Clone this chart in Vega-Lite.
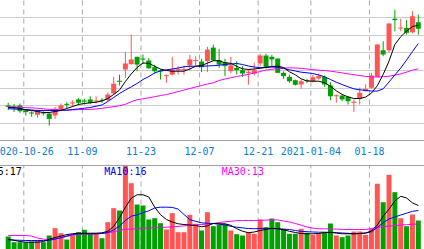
{
"$schema":"https://vega.github.io/schema/vega-lite/v6.json",
"width":424,"height":249,"padding":0,"autosize":{"type":"none"},
"background":"white",
"config":{"view":{"stroke":null},
"axisY":{"title":null,"labels":false,"ticks":false,"domain":false,"grid":true,"gridColor":"#999999","gridDash":[1,1],"gridWidth":1},
"axisX":{"title":null,"grid":false,"domain":false,"ticks":false,"tickSize":0}},
"datasets":{"d":[
{"i":0,"date":"2020-10-21","o":11.99,"h":12.14,"l":11.72,"c":11.91,"v":0.774,"m5":11.872,"m10":11.804,"m30":11.929,"vm5":0.607,"vm10":0.577,"vm30":0.833},
{"i":1,"date":"2020-10-22","o":11.93,"h":12.07,"l":11.62,"c":11.84,"v":0.435,"m5":11.855,"m10":11.787,"m30":11.901,"vm5":0.548,"vm10":0.560,"vm30":0.833},
{"i":2,"date":"2020-10-23","o":11.99,"h":12.10,"l":11.57,"c":11.66,"v":0.435,"m5":11.827,"m10":11.770,"m30":11.884,"vm5":0.476,"vm10":0.548,"vm30":0.833},
{"i":3,"date":"2020-10-26","o":11.72,"h":11.78,"l":11.42,"c":11.61,"v":0.435,"m5":11.742,"m10":11.753,"m30":11.867,"vm5":0.435,"vm10":0.536,"vm30":0.827},
{"i":4,"date":"2020-10-27","o":11.59,"h":11.66,"l":11.34,"c":11.53,"v":0.476,"m5":11.702,"m10":11.731,"m30":11.850,"vm5":0.435,"vm10":0.536,"vm30":0.798},
{"i":5,"date":"2020-10-28","o":11.46,"h":11.76,"l":11.29,"c":11.69,"v":0.536,"m5":11.645,"m10":11.702,"m30":11.833,"vm5":0.435,"vm10":0.536,"vm30":0.679},
{"i":6,"date":"2020-10-29","o":11.59,"h":11.66,"l":11.42,"c":11.53,"v":0.435,"m5":11.589,"m10":11.702,"m30":11.799,"vm5":0.470,"vm10":0.536,"vm30":0.619},
{"i":7,"date":"2020-10-30","o":11.53,"h":11.61,"l":10.85,"c":11.23,"v":0.833,"m5":11.589,"m10":11.702,"m30":11.765,"vm5":0.607,"vm10":0.548,"vm30":0.589},
{"i":8,"date":"2020-11-02","o":11.42,"h":11.91,"l":11.23,"c":11.80,"v":1.268,"m5":11.645,"m10":11.702,"m30":11.748,"vm5":0.714,"vm10":0.619,"vm30":0.631},
{"i":9,"date":"2020-11-03","o":11.76,"h":12.10,"l":11.72,"c":11.99,"v":0.970,"m5":11.702,"m10":11.714,"m30":11.731,"vm5":0.798,"vm10":0.702,"vm30":0.702},
{"i":10,"date":"2020-11-04","o":12.08,"h":12.17,"l":11.83,"c":12.02,"v":0.595,"m5":11.816,"m10":11.719,"m30":11.719,"vm5":0.887,"vm10":0.804,"vm30":0.780},
{"i":11,"date":"2020-11-05","o":12.10,"h":12.29,"l":11.91,"c":12.16,"v":0.833,"m5":11.929,"m10":11.759,"m30":11.736,"vm5":0.940,"vm10":0.893,"vm30":0.845},
{"i":12,"date":"2020-11-06","o":12.33,"h":12.40,"l":11.99,"c":12.14,"v":1.030,"m5":12.043,"m10":11.793,"m30":11.753,"vm5":0.970,"vm10":0.935,"vm30":0.881},
{"i":13,"date":"2020-11-09","o":12.27,"h":12.37,"l":12.04,"c":12.21,"v":1.173,"m5":12.099,"m10":11.833,"m30":11.759,"vm5":0.970,"vm10":0.935,"vm30":0.905},
{"i":14,"date":"2020-11-10","o":12.33,"h":12.51,"l":12.06,"c":12.14,"v":0.935,"m5":12.139,"m10":11.872,"m30":11.759,"vm5":0.970,"vm10":0.935,"vm30":0.917},
{"i":15,"date":"2020-11-11","o":12.21,"h":12.51,"l":12.10,"c":12.27,"v":0.970,"m5":12.173,"m10":11.946,"m30":11.793,"vm5":0.970,"vm10":0.935,"vm30":0.935},
{"i":16,"date":"2020-11-12","o":12.31,"h":12.40,"l":12.14,"c":12.25,"v":0.673,"m5":12.241,"m10":12.014,"m30":11.827,"vm5":0.994,"vm10":0.952,"vm30":0.958},
{"i":17,"date":"2020-11-13","o":12.29,"h":12.71,"l":12.25,"c":12.61,"v":1.625,"m5":12.383,"m10":12.213,"m30":11.872,"vm5":1.083,"vm10":1.012,"vm30":0.994},
{"i":18,"date":"2020-11-16","o":12.67,"h":13.61,"l":12.61,"c":13.23,"v":2.458,"m5":12.610,"m10":12.440,"m30":11.923,"vm5":1.381,"vm10":1.167,"vm30":1.054},
{"i":19,"date":"2020-11-17","o":13.39,"h":13.74,"l":13.12,"c":13.33,"v":2.321,"m5":12.865,"m10":12.667,"m30":11.969,"vm5":1.887,"vm10":1.399,"vm30":1.143},
{"i":20,"date":"2020-11-18","o":14.03,"h":15.01,"l":13.56,"c":14.37,"v":5.0,"m5":13.348,"m10":12.865,"m30":12.054,"vm5":2.518,"vm10":1.726,"vm30":1.202},
{"i":21,"date":"2020-11-19","o":14.33,"h":16.01,"l":14.31,"c":14.60,"v":3.946,"m5":13.773,"m10":13.047,"m30":12.201,"vm5":3.054,"vm10":1.982,"vm30":1.214},
{"i":22,"date":"2020-11-20","o":14.75,"h":14.75,"l":13.93,"c":14.31,"v":2.679,"m5":14.142,"m10":13.234,"m30":12.315,"vm5":3.256,"vm10":2.065,"vm30":1.238},
{"i":23,"date":"2020-11-23","o":14.65,"h":14.88,"l":14.33,"c":14.59,"v":2.619,"m5":14.397,"m10":13.461,"m30":12.366,"vm5":3.256,"vm10":2.185,"vm30":1.268},
{"i":24,"date":"2020-11-24","o":14.54,"h":14.67,"l":14.07,"c":14.10,"v":1.786,"m5":14.380,"m10":13.631,"m30":12.423,"vm5":3.125,"vm10":2.304,"vm30":1.280},
{"i":25,"date":"2020-11-25","o":14.16,"h":14.30,"l":13.80,"c":13.93,"v":1.863,"m5":14.210,"m10":13.830,"m30":12.485,"vm5":2.518,"vm10":2.470,"vm30":1.292},
{"i":26,"date":"2020-11-26","o":13.97,"h":14.03,"l":13.46,"c":13.91,"v":1.565,"m5":14.051,"m10":13.955,"m30":12.548,"vm5":2.071,"vm10":2.518,"vm30":1.310},
{"i":27,"date":"2020-11-27","o":13.65,"h":13.74,"l":13.27,"c":13.71,"v":1.190,"m5":13.972,"m10":14.011,"m30":12.610,"vm5":1.786,"vm10":2.518,"vm30":1.327},
{"i":28,"date":"2020-11-30","o":13.74,"h":14.75,"l":13.69,"c":14.03,"v":2.161,"m5":13.932,"m10":14.057,"m30":12.689,"vm5":1.637,"vm10":2.506,"vm30":1.351},
{"i":29,"date":"2020-12-01","o":13.99,"h":14.22,"l":13.74,"c":14.05,"v":1.030,"m5":13.932,"m10":14.113,"m30":12.774,"vm5":1.530,"vm10":2.405,"vm30":1.375},
{"i":30,"date":"2020-12-02","o":13.99,"h":14.26,"l":13.74,"c":14.05,"v":1.030,"m5":13.932,"m10":14.182,"m30":12.865,"vm5":1.488,"vm10":2.083,"vm30":1.405},
{"i":31,"date":"2020-12-03","o":14.26,"h":14.86,"l":13.99,"c":14.60,"v":2.065,"m5":14.057,"m10":14.210,"m30":12.950,"vm5":1.458,"vm10":1.774,"vm30":1.440},
{"i":32,"date":"2020-12-04","o":14.50,"h":14.78,"l":14.26,"c":14.56,"v":1.530,"m5":14.216,"m10":14.216,"m30":13.035,"vm5":1.429,"vm10":1.679,"vm30":1.464},
{"i":33,"date":"2020-12-07","o":14.48,"h":14.64,"l":13.88,"c":14.16,"v":1.131,"m5":14.255,"m10":14.216,"m30":13.120,"vm5":1.357,"vm10":1.589,"vm30":1.488},
{"i":34,"date":"2020-12-08","o":14.50,"h":15.32,"l":13.88,"c":15.16,"v":2.220,"m5":14.386,"m10":14.227,"m30":13.206,"vm5":1.405,"vm10":1.560,"vm30":1.512},
{"i":35,"date":"2020-12-09","o":15.27,"h":15.45,"l":14.50,"c":14.55,"v":1.387,"m5":14.528,"m10":14.244,"m30":13.274,"vm5":1.548,"vm10":1.548,"vm30":1.548},
{"i":36,"date":"2020-12-10","o":14.56,"h":15.20,"l":14.12,"c":14.31,"v":1.470,"m5":14.522,"m10":14.272,"m30":13.404,"vm5":1.530,"vm10":1.512,"vm30":1.607},
{"i":37,"date":"2020-12-11","o":14.44,"h":14.64,"l":13.65,"c":14.22,"v":1.506,"m5":14.409,"m10":14.312,"m30":13.489,"vm5":1.530,"vm10":1.458,"vm30":1.649},
{"i":38,"date":"2020-12-14","o":13.93,"h":14.75,"l":13.80,"c":14.26,"v":1.131,"m5":14.380,"m10":14.340,"m30":13.563,"vm5":1.440,"vm10":1.381,"vm30":1.679},
{"i":39,"date":"2020-12-15","o":14.12,"h":14.50,"l":13.74,"c":13.99,"v":0.911,"m5":14.210,"m10":14.369,"m30":13.631,"vm5":1.238,"vm10":1.327,"vm30":1.720},
{"i":40,"date":"2020-12-16","o":13.99,"h":14.22,"l":13.61,"c":13.80,"v":0.833,"m5":14.068,"m10":14.312,"m30":13.688,"vm5":1.089,"vm10":1.286,"vm30":1.726},
{"i":41,"date":"2020-12-17","o":13.84,"h":14.07,"l":13.16,"c":13.90,"v":1.030,"m5":14.028,"m10":14.227,"m30":13.756,"vm5":1.000,"vm10":1.250,"vm30":1.726},
{"i":42,"date":"2020-12-18","o":13.80,"h":14.41,"l":13.69,"c":13.99,"v":0.935,"m5":14.057,"m10":14.170,"m30":13.830,"vm5":1.042,"vm10":1.238,"vm30":1.726},
{"i":43,"date":"2020-12-21","o":14.37,"h":14.92,"l":14.22,"c":14.82,"v":1.786,"m5":14.096,"m10":14.131,"m30":13.915,"vm5":1.131,"vm10":1.250,"vm30":1.738},
{"i":44,"date":"2020-12-22","o":14.82,"h":14.92,"l":14.07,"c":14.18,"v":1.327,"m5":14.153,"m10":14.142,"m30":13.994,"vm5":1.196,"vm10":1.262,"vm30":1.750},
{"i":45,"date":"2020-12-23","o":14.75,"h":14.86,"l":14.22,"c":14.60,"v":1.845,"m5":14.199,"m10":14.170,"m30":14.040,"vm5":1.262,"vm10":1.244,"vm30":1.762},
{"i":46,"date":"2020-12-24","o":14.65,"h":14.65,"l":13.84,"c":13.84,"v":1.625,"m5":14.216,"m10":14.153,"m30":14.085,"vm5":1.244,"vm10":1.232,"vm30":1.762},
{"i":47,"date":"2020-12-25","o":13.84,"h":13.93,"l":13.50,"c":13.65,"v":1.232,"m5":14.142,"m10":14.085,"m30":14.108,"vm5":1.179,"vm10":1.208,"vm30":1.696},
{"i":48,"date":"2020-12-28","o":13.61,"h":13.74,"l":13.27,"c":13.36,"v":0.935,"m5":13.898,"m10":14.011,"m30":14.125,"vm5":1.083,"vm10":1.190,"vm30":1.637},
{"i":49,"date":"2020-12-29","o":13.42,"h":13.46,"l":13.12,"c":13.16,"v":0.935,"m5":13.728,"m10":13.943,"m30":14.113,"vm5":1.012,"vm10":1.131,"vm30":1.548},
{"i":50,"date":"2020-12-30","o":13.18,"h":13.46,"l":12.93,"c":13.36,"v":1.232,"m5":13.501,"m10":13.875,"m30":14.096,"vm5":0.952,"vm10":1.077,"vm30":1.446},
{"i":51,"date":"2020-12-31","o":13.42,"h":13.50,"l":13.27,"c":13.36,"v":0.994,"m5":13.376,"m10":13.841,"m30":14.057,"vm5":0.935,"vm10":1.060,"vm30":1.339},
{"i":52,"date":"2021-01-04","o":13.35,"h":13.74,"l":13.29,"c":13.59,"v":0.875,"m5":13.365,"m10":13.801,"m30":14.017,"vm5":0.935,"vm10":1.042,"vm30":1.274},
{"i":53,"date":"2021-01-05","o":13.52,"h":13.80,"l":13.46,"c":13.65,"v":0.935,"m5":13.365,"m10":13.716,"m30":13.989,"vm5":0.952,"vm10":1.030,"vm30":1.232},
{"i":54,"date":"2021-01-06","o":13.61,"h":13.69,"l":13.05,"c":13.18,"v":0.994,"m5":13.274,"m10":13.614,"m30":13.972,"vm5":1.000,"vm10":1.030,"vm30":1.232},
{"i":55,"date":"2021-01-07","o":13.12,"h":13.31,"l":12.29,"c":12.51,"v":1.548,"m5":13.075,"m10":13.461,"m30":13.932,"vm5":1.018,"vm10":1.018,"vm30":1.232},
{"i":56,"date":"2021-01-08","o":12.51,"h":12.61,"l":12.14,"c":12.57,"v":0.833,"m5":12.820,"m10":13.308,"m30":13.887,"vm5":0.982,"vm10":1.000,"vm30":1.214},
{"i":57,"date":"2021-01-11","o":12.55,"h":12.61,"l":12.23,"c":12.33,"v":0.732,"m5":12.616,"m10":13.177,"m30":13.836,"vm5":0.935,"vm10":0.982,"vm30":1.196},
{"i":58,"date":"2021-01-12","o":12.48,"h":12.51,"l":12.04,"c":12.23,"v":0.833,"m5":12.474,"m10":13.047,"m30":13.779,"vm5":0.935,"vm10":0.964,"vm30":1.190},
{"i":59,"date":"2021-01-13","o":12.14,"h":12.33,"l":11.61,"c":12.20,"v":1.071,"m5":12.383,"m10":12.933,"m30":13.734,"vm5":0.935,"vm10":0.940,"vm30":1.190},
{"i":60,"date":"2021-01-14","o":12.37,"h":12.99,"l":12.04,"c":12.71,"v":1.071,"m5":12.383,"m10":12.877,"m30":13.682,"vm5":0.952,"vm10":0.952,"vm30":1.190},
{"i":61,"date":"2021-01-15","o":12.80,"h":13.18,"l":12.78,"c":12.93,"v":0.875,"m5":12.462,"m10":12.837,"m30":13.637,"vm5":0.982,"vm10":0.976,"vm30":1.190},
{"i":62,"date":"2021-01-18","o":12.99,"h":13.84,"l":12.93,"c":13.69,"v":1.232,"m5":12.689,"m10":12.809,"m30":13.609,"vm5":1.101,"vm10":1.054,"vm30":1.250},
{"i":63,"date":"2021-01-19","o":13.61,"h":15.45,"l":13.61,"c":15.45,"v":3.911,"m5":13.109,"m10":12.803,"m30":13.597,"vm5":1.458,"vm10":1.310,"vm30":1.315},
{"i":64,"date":"2021-01-20","o":15.12,"h":15.63,"l":14.78,"c":14.88,"v":2.815,"m5":13.745,"m10":12.933,"m30":13.620,"vm5":1.976,"vm10":1.595,"vm30":1.357},
{"i":65,"date":"2021-01-21","o":15.12,"h":16.64,"l":14.98,"c":16.64,"v":4.446,"m5":14.505,"m10":13.319,"m30":13.648,"vm5":2.405,"vm10":1.815,"vm30":1.393},
{"i":66,"date":"2021-01-22","o":16.91,"h":17.43,"l":16.20,"c":16.83,"v":3.411,"m5":15.447,"m10":13.716,"m30":13.711,"vm5":2.887,"vm10":1.935,"vm30":1.423},
{"i":67,"date":"2021-01-25","o":16.35,"h":16.91,"l":16.20,"c":16.41,"v":1.863,"m5":15.889,"m10":14.113,"m30":13.779,"vm5":3.167,"vm10":2.054,"vm30":1.452},
{"i":68,"date":"2021-01-26","o":16.39,"h":16.83,"l":16.01,"c":16.11,"v":1.387,"m5":16.207,"m10":14.567,"m30":13.881,"vm5":3.065,"vm10":2.161,"vm30":1.476},
{"i":69,"date":"2021-01-27","o":16.14,"h":17.34,"l":16.07,"c":17.05,"v":2.083,"m5":16.468,"m10":15.050,"m30":13.994,"vm5":2.774,"vm10":2.274,"vm30":1.500},
{"i":70,"date":"2021-01-28","o":16.71,"h":17.15,"l":16.01,"c":16.34,"v":1.726,"m5":16.536,"m10":15.504,"m30":14.062,"vm5":2.619,"vm10":2.321,"vm30":1.518}
]},
"data":{"name":"d"},
"resolve":{"scale":{"y":"independent"}},
"layer":[
{"layer":[
{"transform":[{"filter":{"field":"i","oneOf":[3,13,23,33,43,52,62]}}],
"mark":{"type":"rule","xOffset":-2,"color":"#a8a8a8","strokeDash":[5,4],"strokeWidth":1},
"encoding":{
"x":{"field":"i","type":"quantitative","scale":{"domain":[-0.55,70.117],"nice":false,"zero":false},
"axis":{"orient":"bottom","offset":-108,"values":[3,13,23,33,43,52,62,72],
"labelExpr":"datum.value == 3 ? '2020-10-26' : datum.value == 13 ? '11-09' : datum.value == 23 ? '11-23' : datum.value == 33 ? '12-07' : datum.value == 43 ? '12-21' : datum.value == 52 ? '2021-01-04' : datum.value == 62 ? '01-18' : '02-01'",
"labelPadding":5.5,"labelOffset":-2.5,"labelFont":"DejaVu Sans Mono","labelFontSize":10,"labelColor":"#0a80d0","labelOverlap":false,"labelFlush":false,"labelBound":false,"labelAlign":"center","labelBaseline":"top"}},
"y":{"datum":10,"type":"quantitative","scale":{"domain":[10,18],"range":[140.5,-0.5],"nice":false,"zero":false},"axis":{"values":[11,12,13,14,15,16,17]}},
"y2":{"datum":18}}},
{"mark":{"type":"rule","strokeWidth":1,"clip":true},
"encoding":{"x":{"field":"i","type":"quantitative","scale":{"domain":[-0.55,70.117],"nice":false,"zero":false}},
"y":{"field":"l","type":"quantitative","scale":{"domain":[10,18],"range":[140.5,-0.5],"nice":false,"zero":false}},
"y2":{"field":"h"},
"color":{"condition":{"test":"datum.c >= datum.o","value":"#ff5555"},"value":"#00a000"}}},
{"mark":{"type":"bar","size":5,"clip":true},
"encoding":{"x":{"field":"i","type":"quantitative","scale":{"domain":[-0.55,70.117],"nice":false,"zero":false}},
"y":{"field":"o","type":"quantitative","scale":{"domain":[10,18],"range":[140.5,-0.5],"nice":false,"zero":false}},
"y2":{"field":"c"},
"color":{"condition":{"test":"datum.c >= datum.o","value":"#ff5555"},"value":"#00a000"}}},
{"mark":{"type":"line","color":"#ff00ff","strokeWidth":1,"clip":true},
"encoding":{"x":{"field":"i","type":"quantitative","scale":{"domain":[-0.55,70.117],"nice":false,"zero":false}},
"y":{"field":"m30","type":"quantitative","scale":{"domain":[10,18],"range":[140.5,-0.5],"nice":false,"zero":false}}}},
{"mark":{"type":"line","color":"#0000ff","strokeWidth":1,"clip":true},
"encoding":{"x":{"field":"i","type":"quantitative","scale":{"domain":[-0.55,70.117],"nice":false,"zero":false}},
"y":{"field":"m10","type":"quantitative","scale":{"domain":[10,18],"range":[140.5,-0.5],"nice":false,"zero":false}}}},
{"mark":{"type":"line","color":"#000000","strokeWidth":1,"clip":true},
"encoding":{"x":{"field":"i","type":"quantitative","scale":{"domain":[-0.55,70.117],"nice":false,"zero":false}},
"y":{"field":"m5","type":"quantitative","scale":{"domain":[10,18],"range":[140.5,-0.5],"nice":false,"zero":false}}}},
{"data":{"values":[{}]},
"mark":{"type":"rule","color":"#a0a0a0","strokeWidth":1},
"encoding":{"y":{"datum":10,"type":"quantitative","scale":{"domain":[10,18],"range":[140.5,-0.5],"nice":false,"zero":false}}}}
]},
{"layer":[
{"transform":[{"filter":{"field":"i","oneOf":[3,13,23,33,43,52,62]}}],
"mark":{"type":"rule","xOffset":-2,"color":"#a8a8a8","strokeDash":[5,4],"strokeWidth":1},
"encoding":{
"x":{"field":"i","type":"quantitative","scale":{"domain":[-0.55,70.117],"nice":false,"zero":false}},
"y":{"datum":0,"type":"quantitative","scale":{"domain":[0,5],"range":[249.5,165.5],"nice":false,"zero":false},"axis":{"values":[1,2,3,4]}},
"y2":{"datum":5}}},
{"mark":{"type":"bar","size":5,"clip":true},
"encoding":{"x":{"field":"i","type":"quantitative","scale":{"domain":[-0.55,70.117],"nice":false,"zero":false}},
"y":{"field":"v","type":"quantitative","scale":{"domain":[0,5],"range":[249.5,165.5],"nice":false,"zero":false}},
"color":{"condition":{"test":"datum.c >= datum.o","value":"#ff5555"},"value":"#00a000"}}},
{"mark":{"type":"line","color":"#ff00ff","strokeWidth":1,"clip":true},
"encoding":{"x":{"field":"i","type":"quantitative","scale":{"domain":[-0.55,70.117],"nice":false,"zero":false}},
"y":{"field":"vm30","type":"quantitative","scale":{"domain":[0,5],"range":[249.5,165.5],"nice":false,"zero":false}}}},
{"mark":{"type":"line","color":"#0000ff","strokeWidth":1,"clip":true},
"encoding":{"x":{"field":"i","type":"quantitative","scale":{"domain":[-0.55,70.117],"nice":false,"zero":false}},
"y":{"field":"vm10","type":"quantitative","scale":{"domain":[0,5],"range":[249.5,165.5],"nice":false,"zero":false}}}},
{"mark":{"type":"line","color":"#000000","strokeWidth":1,"clip":true},
"encoding":{"x":{"field":"i","type":"quantitative","scale":{"domain":[-0.55,70.117],"nice":false,"zero":false}},
"y":{"field":"vm5","type":"quantitative","scale":{"domain":[0,5],"range":[249.5,165.5],"nice":false,"zero":false}}}},
{"data":{"values":[{}]},
"mark":{"type":"rule","color":"#a0a0a0","strokeWidth":1},
"encoding":{"y":{"datum":5,"type":"quantitative","scale":{"domain":[0,5],"range":[249.5,165.5],"nice":false,"zero":false}}}},
{"data":{"values":[{"label":"MA5:17"}]},
"mark":{"type":"text","align":"right","baseline":"alphabetic","font":"DejaVu Sans Mono","fontSize":10,"color":"#000000"},
"encoding":{"x":{"datum":2.32,"type":"quantitative","scale":{"domain":[-0.55,70.117],"nice":false,"zero":false}},
"y":{"datum":4.45,"type":"quantitative","scale":{"domain":[0,5],"range":[249.5,165.5],"nice":false,"zero":false}},
"text":{"field":"label"}}},
{"data":{"values":[{"label":"MA10:16"}]},
"mark":{"type":"text","align":"left","baseline":"alphabetic","font":"DejaVu Sans Mono","fontSize":10,"color":"#0000ff"},
"encoding":{"x":{"datum":16.4,"type":"quantitative","scale":{"domain":[-0.55,70.117],"nice":false,"zero":false}},
"y":{"datum":4.45,"type":"quantitative","scale":{"domain":[0,5],"range":[249.5,165.5],"nice":false,"zero":false}},
"text":{"field":"label"}}},
{"data":{"values":[{"label":"MA30:13"}]},
"mark":{"type":"text","align":"left","baseline":"alphabetic","font":"DejaVu Sans Mono","fontSize":10,"color":"#ff00ff"},
"encoding":{"x":{"datum":36.45,"type":"quantitative","scale":{"domain":[-0.55,70.117],"nice":false,"zero":false}},
"y":{"datum":4.45,"type":"quantitative","scale":{"domain":[0,5],"range":[249.5,165.5],"nice":false,"zero":false}},
"text":{"field":"label"}}}
]}
]
}
